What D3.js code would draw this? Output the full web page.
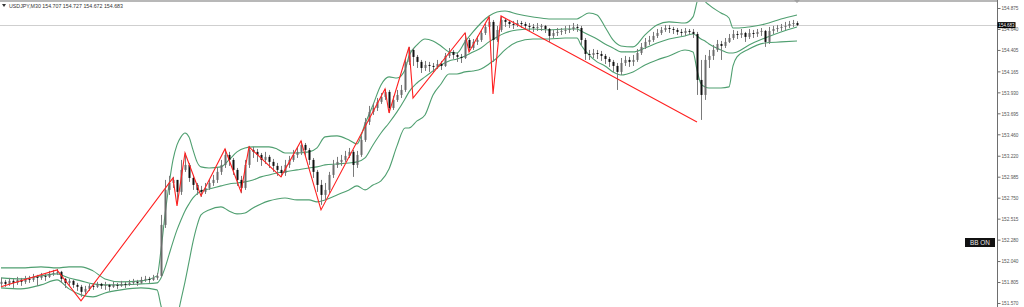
<!DOCTYPE html>
<html><head><meta charset="utf-8">
<script src="https://cdn.jsdelivr.net/npm/d3@7"></script>
<style>body{margin:0;background:#fff;}svg{display:block;}</style>
</head><body>
<script>
// ---------------- DATA ----------------
const symbolTitle = "USDJPY,M30  154.707 154.727 154.672 154.683";
const tickLabels = ["154.875","154.640","154.405","154.165","153.930","153.695","153.460","153.220","152.985","152.750","152.515","152.280","152.040","151.805","151.570"];
const tickValues = [154.875,154.640,154.405,154.165,153.930,153.695,153.460,153.220,152.985,152.750,152.515,152.280,152.040,151.805,151.570];
const bidPrice = 154.683;
const firstOpen = 151.784;

const closes = [151.807,151.784,151.818,151.795,151.829,151.807,151.840,151.829,151.863,151.851,
151.874,151.863,151.896,151.907,151.919,151.840,151.795,151.818,151.773,151.751,
151.695,151.728,151.762,151.751,151.784,151.762,151.773,151.751,151.773,151.762,
151.784,151.773,151.795,151.807,151.795,151.829,151.840,151.829,151.851,151.874,
152.445,152.837,152.915,152.949,152.815,153.061,153.117,152.971,152.893,152.837,
152.815,152.859,152.915,152.949,153.039,153.117,153.229,153.173,153.061,152.949,
152.859,153.117,153.285,153.263,153.229,153.173,153.207,153.151,153.106,153.061,
153.027,153.117,153.173,153.229,153.263,153.341,153.285,153.173,153.039,152.893,
152.781,152.837,153.005,153.117,153.151,153.173,153.218,153.263,153.117,153.229,
153.397,153.599,153.711,153.755,153.823,153.879,153.935,153.755,153.845,153.901,
153.957,154.271,154.405,154.327,154.271,154.203,154.237,154.226,154.215,154.248,
154.226,154.338,154.383,154.349,154.327,154.315,154.517,154.427,154.495,154.517,
154.595,154.663,154.719,154.517,154.629,154.741,154.719,154.696,154.685,154.707,
154.696,154.674,154.663,154.651,154.663,154.674,154.640,154.562,154.595,154.607,
154.618,154.629,154.640,154.663,154.651,154.517,154.360,154.349,154.371,154.360,
154.338,154.304,154.271,154.226,154.159,154.259,154.293,154.271,154.293,154.371,
154.439,154.495,154.517,154.562,154.595,154.629,154.651,154.640,154.629,154.607,
154.595,154.618,154.607,154.584,154.069,153.901,154.293,154.338,154.405,154.472,
154.450,154.495,154.539,154.584,154.573,154.595,154.551,154.595,154.584,154.607,
154.618,154.495,154.618,154.640,154.651,154.663,154.674,154.696,154.707,154.683];

const highs = [151.851,151.829,151.851,151.840,151.863,151.851,151.874,151.874,151.896,151.885,
151.907,151.896,151.930,151.941,151.952,151.930,151.851,151.840,151.829,151.795,
151.773,151.762,151.784,151.784,151.807,151.795,151.807,151.784,151.807,151.795,
151.818,151.807,151.829,151.840,151.829,151.863,151.874,151.863,151.885,151.907,
152.557,152.949,152.994,152.983,152.949,153.173,153.251,153.139,153.005,152.915,
152.882,152.915,152.960,153.005,153.083,153.173,153.296,153.263,153.195,153.083,
152.994,153.173,153.330,153.319,153.296,153.251,153.263,153.229,153.184,153.139,
153.106,153.173,153.218,153.285,153.319,153.386,153.363,153.307,153.195,153.061,
152.949,152.915,153.039,153.173,153.207,153.229,153.274,153.307,153.285,153.274,
153.442,153.643,153.778,153.811,153.867,153.923,153.968,153.957,153.890,153.957,
154.013,154.315,154.439,154.427,154.349,154.293,154.282,154.271,154.259,154.293,
154.282,154.371,154.427,154.405,154.371,154.360,154.595,154.539,154.528,154.562,
154.629,154.696,154.775,154.741,154.674,154.786,154.763,154.741,154.730,154.741,
154.730,154.719,154.707,154.696,154.707,154.696,154.685,154.651,154.629,154.651,
154.651,154.674,154.685,154.707,154.696,154.674,154.539,154.405,154.416,154.405,
154.394,154.360,154.327,154.293,154.259,154.315,154.338,154.327,154.349,154.416,
154.483,154.539,154.562,154.607,154.640,154.663,154.685,154.685,154.663,154.651,
154.640,154.651,154.640,154.640,154.607,154.293,154.349,154.405,154.461,154.517,
154.506,154.539,154.584,154.629,154.618,154.640,154.607,154.640,154.629,154.640,
154.651,154.629,154.663,154.674,154.685,154.696,154.719,154.730,154.741,154.727];

const lows = [151.762,151.751,151.762,151.739,151.773,151.762,151.784,151.795,151.807,151.762,
151.829,151.818,151.851,151.874,151.885,151.795,151.739,151.762,151.739,151.706,
151.639,151.672,151.706,151.717,151.739,151.728,151.717,151.706,151.739,151.728,
151.751,151.739,151.762,151.773,151.762,151.784,151.807,151.795,151.818,151.829,
151.863,152.411,152.781,152.859,152.680,152.781,153.039,152.927,152.837,152.781,
152.759,152.792,152.837,152.882,152.915,153.005,153.083,153.106,153.005,152.882,
152.803,152.837,153.083,153.195,153.151,153.106,153.128,153.083,153.039,152.994,
152.983,152.994,153.083,153.151,153.195,153.229,153.218,153.117,152.971,152.815,
152.669,152.725,152.803,152.971,153.083,153.106,153.151,153.195,152.983,153.083,
153.207,153.375,153.565,153.677,153.722,153.800,153.845,153.699,153.733,153.823,
153.867,153.935,154.237,154.226,154.203,154.147,154.170,154.159,154.159,154.192,
154.181,154.215,154.315,154.304,154.271,154.259,154.304,154.383,154.405,154.461,
154.495,154.573,154.640,154.271,154.495,154.607,154.663,154.651,154.640,154.663,
154.651,154.629,154.618,154.607,154.618,154.618,154.595,154.495,154.539,154.562,
154.573,154.584,154.595,154.618,154.607,154.461,154.293,154.293,154.315,154.304,
154.282,154.248,154.215,154.159,153.957,154.125,154.226,154.215,154.226,154.271,
154.349,154.416,154.461,154.495,154.539,154.573,154.607,154.595,154.584,154.573,
154.562,154.562,154.573,154.539,153.901,153.621,153.845,154.203,154.293,154.383,
154.293,154.427,154.483,154.517,154.528,154.539,154.495,154.528,154.539,154.551,
154.562,154.439,154.472,154.584,154.607,154.618,154.629,154.651,154.663,154.672];

// Bollinger bands, read at these bar indices
const bandIdx = [0,5,10,14,17,20,23,26,30,35,39,40,41,42,43,44,45,46,47,48,49,50,52,55,57,59,61,63,65,67,69,71,74,77,79,81,84,87,89,91,93,95,97,99,101,102,104,106,108,110,112,114,116,118,120,122,124,126,129,133,137,141,144,145,147,149,151,153,155,158,161,164,167,171,173,174,175,176,177,180,182,183,184,187,191,195,199];
const bandUpper = [151.963,151.963,151.975,151.963,151.975,151.975,151.930,151.840,151.807,151.818,
151.874,152.165,152.557,152.893,153.173,153.341,153.431,153.475,153.431,153.285,
153.151,153.095,153.083,153.095,153.173,153.263,153.307,153.319,153.319,153.319,
153.296,153.251,153.251,153.263,153.307,153.431,153.442,153.397,153.352,153.576,
153.789,154.013,154.103,154.091,154.181,154.338,154.461,154.528,154.506,154.450,
154.383,154.371,154.495,154.607,154.707,154.786,154.831,154.842,154.808,154.775,
154.752,154.752,154.752,154.775,154.819,154.797,154.663,154.517,154.450,154.439,
154.573,154.685,154.719,154.707,154.775,154.943,155.099,154.954,154.909,154.819,
154.763,154.651,154.651,154.663,154.696,154.752,154.797];
const bandMiddle = [151.851,151.840,151.874,151.896,151.851,151.818,151.784,151.773,151.773,151.784,
151.795,151.851,151.963,152.109,152.255,152.389,152.501,152.602,152.680,152.747,
152.792,152.826,152.848,152.882,152.904,152.915,152.927,152.949,152.983,153.005,
153.027,153.039,153.061,153.083,153.095,153.117,153.128,153.139,153.151,153.195,
153.341,153.475,153.587,153.711,153.856,153.935,154.035,154.103,154.170,154.237,
154.282,154.304,154.338,154.383,154.427,154.495,154.551,154.595,154.629,154.640,
154.629,154.640,154.640,154.618,154.573,154.528,154.472,154.427,154.383,154.383,
154.427,154.483,154.528,154.562,154.584,154.562,154.528,154.506,154.472,154.405,
154.371,154.371,154.383,154.461,154.539,154.607,154.663];
const bandLower = [151.739,151.728,151.773,151.829,151.728,151.661,151.639,151.683,151.717,151.739,
151.717,151.538,151.381,151.269,151.269,151.403,151.605,151.807,152.031,152.255,
152.434,152.557,152.613,152.647,152.602,152.568,152.579,152.635,152.680,152.714,
152.736,152.747,152.725,152.725,152.703,152.725,152.781,152.837,152.882,152.837,
152.893,152.938,153.072,153.330,153.531,153.531,153.610,153.677,153.901,154.024,
154.136,154.136,154.159,154.170,154.192,154.248,154.315,154.405,154.495,154.528,
154.528,154.539,154.539,154.461,154.349,154.271,154.226,154.159,154.125,154.159,
154.237,154.293,154.338,154.405,154.383,154.181,154.024,153.991,153.979,153.979,
153.991,154.226,154.327,154.416,154.483,154.495,154.506];

// ZigZag turning points
const zzIdx = [0,14,20,43,44,46,50,56,60,62,70,75,80,96,97,102,103,116,117,122,123,125,174];
const zzPrice = [151.751,151.941,151.594,152.971,152.658,153.251,152.770,153.296,152.815,153.319,152.983,153.386,152.613,153.968,153.699,154.439,153.867,154.595,154.383,154.775,153.912,154.786,153.599];

// ---------------- CHART ----------------
const W = 1024, H = 307, plotR = 997;
const svg = d3.select("body").append("svg").attr("width", W).attr("height", H)
  .style("font-family", "'Liberation Sans', Arial, sans-serif");

const y = d3.scaleLinear().domain([151.570, 154.875]).range([303, 8]);
const x = d3.scaleLinear().domain([0, closes.length - 1]).range([1, 797]);

svg.append("defs").append("clipPath").attr("id", "plot")
  .append("rect").attr("x", 0).attr("y", 2).attr("width", plotR).attr("height", H - 2);

const g = svg.append("g").attr("clip-path", "url(#plot)");

// bid line
g.append("line").attr("x1", 0).attr("x2", plotR)
  .attr("y1", Math.round(y(bidPrice)) + 0.5).attr("y2", Math.round(y(bidPrice)) + 0.5)
  .attr("stroke", "#cfcfcf").attr("stroke-width", 1);

// bollinger bands
const bandLine = d3.line().x(d => x(d[0])).y(d => y(d[1])).curve(d3.curveMonotoneX);
[bandUpper, bandMiddle, bandLower].forEach(arr => {
  g.append("path").datum(bandIdx.map((b, i) => [b, arr[i]]))
    .attr("d", bandLine).attr("fill", "none")
    .attr("stroke", "#4f9f70").attr("stroke-width", 1.1);
});

// candles
const bars = closes.map((c, i) => {
  const o = i === 0 ? firstOpen : closes[i - 1];
  return { i, o, c, h: Math.max(highs[i], o, c), l: Math.min(lows[i], o, c) };
});
const cg = g.append("g");
cg.selectAll("line.wick").data(bars).join("line").attr("class", "wick")
  .attr("x1", d => Math.round(x(d.i)) + 0.5).attr("x2", d => Math.round(x(d.i)) + 0.5)
  .attr("y1", d => y(d.h)).attr("y2", d => y(d.l))
  .attr("stroke", "#7a7a7a").attr("stroke-width", 1);
cg.selectAll("rect.body").data(bars).join("rect").attr("class", "body")
  .attr("x", d => Math.round(x(d.i)) - 0.5).attr("width", 2)
  .attr("y", d => Math.min(y(d.o), y(d.c)))
  .attr("height", d => Math.max(1, Math.abs(y(d.o) - y(d.c))))
  .attr("fill", d => d.c >= d.o ? "#6b6b6b" : "#111");

// zigzag
const zzLine = d3.line().x(d => x(d[0])).y(d => y(d[1]));
g.append("path").datum(zzIdx.map((b, i) => [b, zzPrice[i]]))
  .attr("d", zzLine).attr("fill", "none")
  .attr("stroke", "#ff2020").attr("stroke-width", 1.1);

// top strip
svg.append("rect").attr("x", 0).attr("y", 0).attr("width", plotR).attr("height", 2).attr("fill", "#b8b8b8");
svg.append("path").attr("d", `M${x(closes.length - 1) - 3},0 L${x(closes.length - 1) + 3},0 L${x(closes.length - 1)},3 Z`).attr("fill", "#a0a0a0");

// title
svg.append("path").attr("d", "M2,4 L6,4 L4,7 Z").attr("fill", "#333");
svg.append("text").attr("x", 9).attr("y", 8.2).attr("font-size", 6).attr("fill", "#333")
  .attr("textLength", 114).attr("lengthAdjust", "spacingAndGlyphs").text(symbolTitle);

// right axis
svg.append("line").attr("x1", plotR + 0.5).attr("x2", plotR + 0.5).attr("y1", 0).attr("y2", H)
  .attr("stroke", "#6e6e6e").attr("stroke-width", 1);
const axis = d3.axisRight(y).tickValues(tickValues).tickFormat((d, i) => tickLabels[i]).tickSize(3).tickPadding(1);
const ag = svg.append("g").attr("transform", `translate(${plotR + 0.5},0)`).call(axis);
ag.select(".domain").remove();
ag.selectAll(".tick line").attr("stroke", "#6e6e6e");
ag.selectAll(".tick text").attr("font-size", 5.6).attr("fill", "#555")
  .attr("font-family", "'Liberation Sans', Arial, sans-serif")
  .attr("textLength", 17).attr("lengthAdjust", "spacingAndGlyphs");

// current price box
const by = y(bidPrice);
svg.append("rect").attr("x", plotR + 0.5).attr("y", by - 3).attr("width", 18).attr("height", 6).attr("fill", "#000");
svg.append("text").attr("x", plotR + 1.5).attr("y", by + 2).attr("font-size", 5.4).attr("fill", "#fff")
  .attr("textLength", 16).attr("lengthAdjust", "spacingAndGlyphs").text(bidPrice.toFixed(3));

// BB ON label
svg.append("rect").attr("x", 965).attr("y", 238).attr("width", 30).attr("height", 9).attr("fill", "#111");
svg.append("text").attr("x", 980).attr("y", 245).attr("text-anchor", "middle").attr("font-size", 6.4)
  .attr("fill", "#e8e8e8").text("BB ON");
</script>
</body></html>
